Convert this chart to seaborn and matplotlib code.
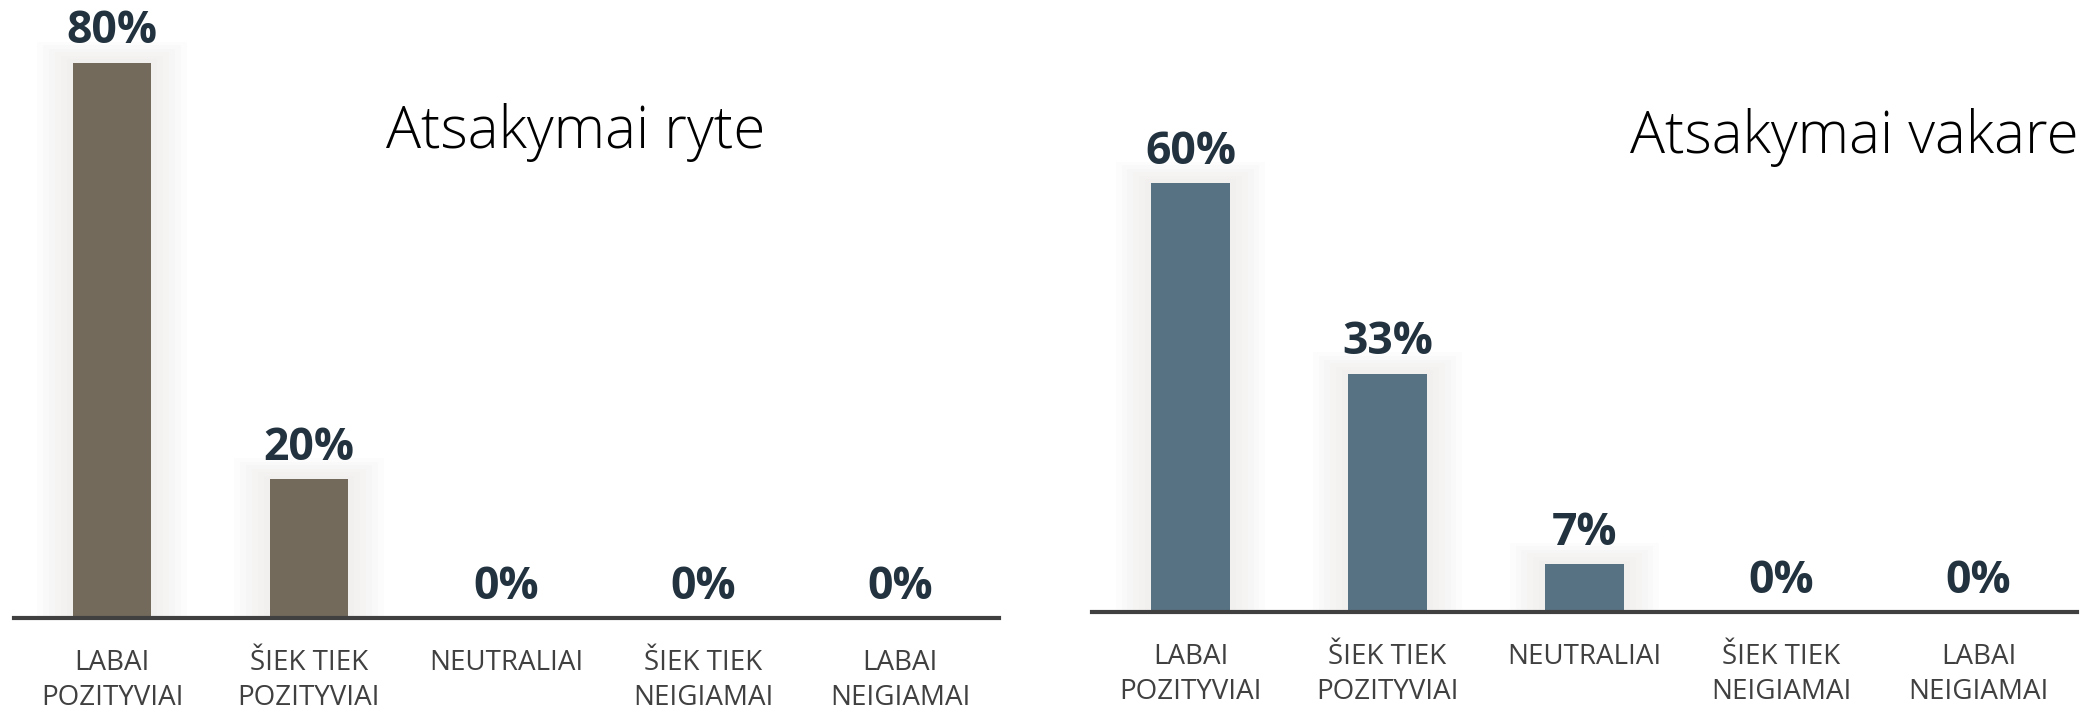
import pandas as pd
import seaborn as sns
import matplotlib.pyplot as plt
from matplotlib import font_manager


categories = ["LABAI\nPOZITYVIAI", "ŠIEK TIEK\nPOZITYVIAI", "NEUTRALIAI",
              "ŠIEK TIEK\nNEIGIAMAI", "LABAI\nNEIGIAMAI"]
morning = [80, 20, 0, 0, 0]
evening = [60, 33.3, 6.7, 0, 0]
titles = ["Atsakymai ryte", "Atsakymai vakare"]


def draw_panel(ax, values, color, ymax):
    df = pd.DataFrame({"cat": categories, "val": values})
    # soft glow behind the bars
    for k in range(6, 0, -1):
        glow = df.copy()
        glow["val"] = [v + k * 0.5 if v > 0 else 0 for v in values]
        sns.barplot(data=glow, x="cat", y="val", order=categories, color="#d9d6d0",
                    alpha=0.06, width=0.4 + k * 0.06, saturation=1, ax=ax, zorder=1)
    sns.barplot(data=df, x="cat", y="val", order=categories, color=color,
                width=0.4, saturation=1, ax=ax, zorder=3)
    for i, v in enumerate(values):
        ax.annotate(f"{round(v)}%", (i, v), xytext=(0, 14), textcoords="offset points",
                    ha="center", va="baseline", fontsize=32, fontweight="bold",
                    family="Open Sans", color="#22333f", zorder=5)
    ax.set_xlim(-0.5, 4.5)
    ax.set_ylim(0, ymax)
    ax.set_xlabel("")
    ax.set_ylabel("")
    ax.set_yticks([])
    for s in ["top", "left", "right"]:
        ax.spines[s].set_visible(False)
    ax.spines["bottom"].set_color("#404040")
    ax.spines["bottom"].set_linewidth(3)
    ax.spines["bottom"].set_zorder(6)
    ax.tick_params(axis="x", length=0, pad=22)
    for lab in ax.get_xticklabels():
        lab.set_fontsize(20)
        lab.set_family("Open Sans")
        lab.set_color("#404040")
        lab.set_linespacing(1.35)
        lab.set_verticalalignment("top")
    ax.patch.set_alpha(0)


print(sorted({(f.name, f.weight) for f in font_manager.fontManager.ttflist
              if f.name in ("Lato", "Open Sans", "Roboto", "Inter", "Noto Sans")}))

fig = plt.figure(figsize=(20.88, 7.11), dpi=100)
W, H = 2088, 711
ax1 = fig.add_axes([13.5 / W, (H - 618) / H, 985 / W, 618 / H])
ax2 = fig.add_axes([1092 / W, (H - 612) / H, 985 / W, 612 / H])

draw_panel(ax1, morning, "#736a5b", 618 / 6.94)
draw_panel(ax2, evening, "#577283", 612 / 7.15)

fig.text(576 / W, 1 - 148 / H, titles[0], ha="center", va="baseline",
         fontsize=42, family="Open Sans", fontweight=300, color="black")
fig.text(1854 / W, 1 - 153 / H, titles[1], ha="center", va="baseline",
         fontsize=42, family="Open Sans", fontweight=300, color="black")

fig.savefig("out.png", dpi=100, facecolor="white")
